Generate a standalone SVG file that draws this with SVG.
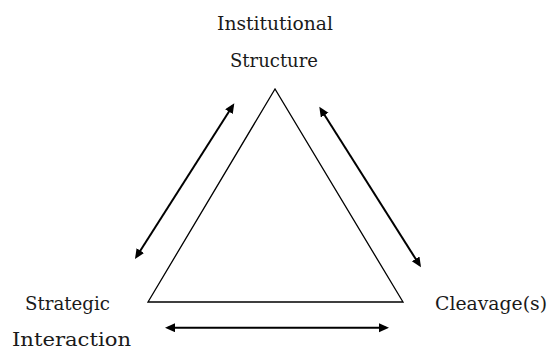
<svg xmlns="http://www.w3.org/2000/svg" width="548" height="350" viewBox="0 0 548 350">
<style>
.lbl{font-family:"DejaVu Serif","Liberation Serif",serif;font-size:18.5px;fill:#1a1a1a}
.arr{stroke:#000;stroke-width:2;fill:none;marker-start:url(#ah);marker-end:url(#ah)}
</style>
<defs>
<marker id="ah" markerUnits="userSpaceOnUse" markerWidth="12" markerHeight="10" refX="7" refY="4.5" orient="auto-start-reverse">
<path d="M0,0 L10,4.5 L0,9 z" fill="#000"/>
</marker>
</defs>
<rect width="548" height="350" fill="#fff"/>
<g id="triangle">
<polygon points="275,89 148,302 403,302" fill="none" stroke="#000" stroke-width="1.3"/>
</g>
<g id="institutional-structure">
<text class="lbl" x="275" y="30" text-anchor="middle" textLength="116" lengthAdjust="spacingAndGlyphs">Institutional</text>
<text class="lbl" x="274" y="67" text-anchor="middle" textLength="88" lengthAdjust="spacingAndGlyphs">Structure</text>
</g>
<g id="strategic-interaction">
<text class="lbl" x="67.5" y="310" text-anchor="middle" textLength="85" lengthAdjust="spacingAndGlyphs">Strategic</text>
<text class="lbl" x="71.5" y="346" text-anchor="middle" textLength="119" lengthAdjust="spacingAndGlyphs">Interaction</text>
</g>
<g id="cleavages">
<text class="lbl" x="435" y="310" textLength="112" lengthAdjust="spacingAndGlyphs">Cleavage(s)</text>
</g>
<g id="connectors">
<line class="arr" x1="136.6" y1="256.5" x2="232.7" y2="105.8"/>
<line class="arr" x1="320.9" y1="109.2" x2="419.4" y2="264.8"/>
<line class="arr" x1="168" y1="327.7" x2="386" y2="327.7"/>
</g>
</svg>
